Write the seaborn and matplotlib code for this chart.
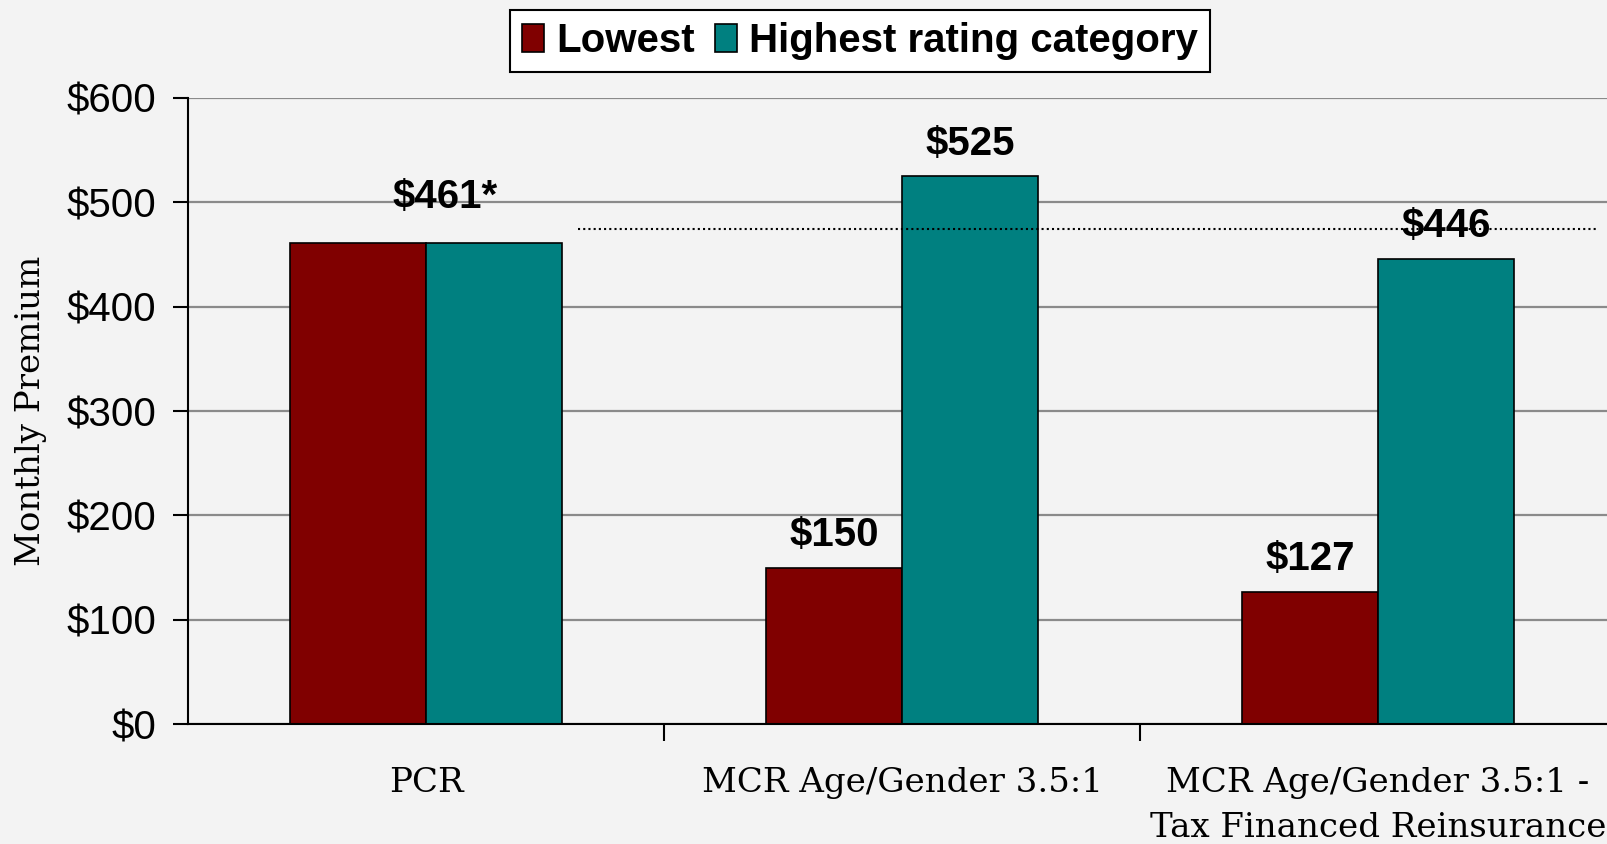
import pandas as pd
import matplotlib.pyplot as plt
import seaborn as sns
from matplotlib import font_manager
from matplotlib.ticker import FixedLocator

# data
categories = ['PCR', 'MCR Age/Gender 3.5:1', 'MCR Age/Gender 3.5:1 -\nTax Financed Reinsurance']
lowest = [461, 150, 127]
highest = [461, 525, 446]
series_names = ['Lowest', 'Highest rating category']
reference_level = 474
yticks = [0, 100, 200, 300, 400, 500, 600]

df = pd.DataFrame({
    'category': categories * 2,
    'series': [series_names[0]] * 3 + [series_names[1]] * 3,
    'premium': lowest + highest,
})

sns.set_style('white')
plt.rcParams['font.family'] = ['Liberation Sans', 'DejaVu Sans']
for k in ['text.color', 'axes.labelcolor', 'xtick.color', 'ytick.color']:
    plt.rcParams[k] = 'black'
bg = '#f3f3f3'
serif = 'DejaVu Serif'

# legend font: narrow bold if available
names = {f.name for f in font_manager.fontManager.ttflist}
if 'Liberation Sans Narrow' in names:
    leg_prop = {'family': 'Liberation Sans Narrow', 'size': 34, 'weight': 'bold'}
else:
    leg_prop = {'family': 'Liberation Sans', 'size': 29, 'weight': 'bold'}

fig = plt.figure(figsize=(16.08, 8.44), dpi=100, facecolor=bg)
ax = fig.add_axes([0.117, 0.142, 0.888, 0.742])
ax.set_facecolor(bg)

sns.barplot(data=df, x='category', y='premium', hue='series', order=categories,
            hue_order=series_names, palette=['#800000', '#008080'],
            width=0.572, edgecolor='black', linewidth=1.2, saturation=1,
            legend=True, ax=ax)

ax.set_xlim(-0.5, 2.5)
ax.set_ylim(0, 600)
ax.set_yticks(yticks)
ax.set_yticklabels(['${}'.format(v) for v in yticks], fontsize=29)
ax.yaxis.grid(True, color='#8a8a8a', linewidth=1.6)
ax.set_axisbelow(True)
ax.tick_params(axis='y', length=11, width=1.5, color='black', pad=12, left=True)

ax.set_xticks(range(len(categories)))
ax.set_xticklabels(categories, fontsize=24.5, family=serif, linespacing=1.5)
ax.tick_params(axis='x', which='major', length=0, pad=31)
ax.xaxis.set_minor_locator(FixedLocator([0.5, 1.5]))
ax.tick_params(axis='x', which='minor', length=12, width=1.5, color='black', bottom=True)
ax.set_xlabel('')
ax.set_ylabel('Monthly Premium', fontsize=24.5, family=serif, labelpad=14)

for s in ['top', 'right']:
    ax.spines[s].set_visible(False)
for s in ['left', 'bottom']:
    ax.spines[s].set_color('black')
    ax.spines[s].set_linewidth(1.5)

# dotted reference line
ax.hlines(reference_level, 0.32, 2.46, colors='black', linestyles=(0, (1, 1.5)), linewidth=1.5)

# value labels
bars_low = ax.containers[0]
bars_high = ax.containers[1]
# PCR: both equal, one label over the group
ax.annotate('${}*'.format(lowest[0]), (0.04, lowest[0]), xytext=(0, 33), textcoords='offset points',
            ha='center', va='center', fontsize=29, fontweight='bold')
for i in range(1, len(categories)):
    for bar, v in ((bars_low[i], lowest[i]), (bars_high[i], highest[i])):
        ax.annotate('${}'.format(v), (bar.get_x() + bar.get_width() / 2, v), xytext=(0, 23.5),
                    textcoords='offset points', ha='center', va='center',
                    fontsize=29, fontweight='bold')

ax.get_legend().remove()
handles, labels = ax.get_legend_handles_labels()
leg = fig.legend(handles[:2], labels[:2], loc='upper center', bbox_to_anchor=(0.535, 0.988),
                 ncol=2, frameon=True, fancybox=False, edgecolor='black', facecolor='white',
                 framealpha=1, prop=leg_prop, handlelength=0.55, handleheight=0.7,
                 handletextpad=0.3, columnspacing=0.5,
                 borderpad=0.3, borderaxespad=0)
leg.get_frame().set_linewidth(1.5)

fig.savefig('out.png', dpi=100, facecolor=bg)
